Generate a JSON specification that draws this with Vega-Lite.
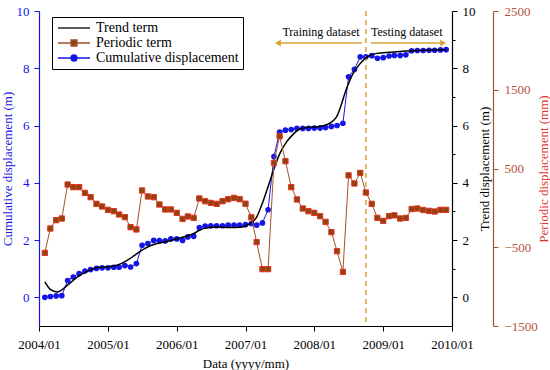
{
  "$schema": "https://vega.github.io/schema/vega-lite/v6.json",
  "width": 413,
  "height": 315,
  "autosize": {"type": "none"},
  "padding": {"left": 39, "top": 11, "right": 98, "bottom": 44},
  "background": "white",
  "config": {
    "view": {"stroke": null},
    "font": "Liberation Serif",
    "axis": {"labelFont": "Liberation Serif", "titleFont": "Liberation Serif", "labelFontSize": 13, "titleFontSize": 13, "titleFontWeight": "normal", "grid": false, "labelFlush": false, "labelOverlap": false, "tickWidth": 1, "domainWidth": 1.2},
    "legend": {"orient": "none", "legendX": 13, "legendY": 6, "direction": "vertical", "strokeColor": "black", "fillColor": "white", "padding": 4, "labelFont": "Liberation Serif", "labelFontSize": 14, "labelColor": "black", "symbolSize": 100, "symbolStrokeWidth": 1.3, "rowPadding": 1, "labelOffset": 26, "titleFontSize": 0}
  },
  "datasets": {
    "cum": [
      {"d": "2004-02-01", "v": 0.00}, {"d": "2004-03-01", "v": 0.03}, {"d": "2004-04-01", "v": 0.05}, {"d": "2004-05-01", "v": 0.06},
      {"d": "2004-06-01", "v": 0.59}, {"d": "2004-07-01", "v": 0.71}, {"d": "2004-08-01", "v": 0.83}, {"d": "2004-09-01", "v": 0.92},
      {"d": "2004-10-01", "v": 0.97}, {"d": "2004-11-01", "v": 1.01}, {"d": "2004-12-01", "v": 1.03}, {"d": "2005-01-01", "v": 1.03},
      {"d": "2005-02-01", "v": 1.05}, {"d": "2005-03-01", "v": 1.05}, {"d": "2005-04-01", "v": 1.11}, {"d": "2005-05-01", "v": 1.06},
      {"d": "2005-06-01", "v": 1.18}, {"d": "2005-07-01", "v": 1.82}, {"d": "2005-08-01", "v": 1.88}, {"d": "2005-09-01", "v": 1.99},
      {"d": "2005-10-01", "v": 1.98}, {"d": "2005-11-01", "v": 1.97}, {"d": "2005-12-01", "v": 2.04}, {"d": "2006-01-01", "v": 2.04},
      {"d": "2006-02-01", "v": 1.99}, {"d": "2006-03-01", "v": 2.11}, {"d": "2006-04-01", "v": 2.13}, {"d": "2006-05-01", "v": 2.44},
      {"d": "2006-06-01", "v": 2.49}, {"d": "2006-07-01", "v": 2.50}, {"d": "2006-08-01", "v": 2.50}, {"d": "2006-09-01", "v": 2.50},
      {"d": "2006-10-01", "v": 2.52}, {"d": "2006-11-01", "v": 2.52}, {"d": "2006-12-01", "v": 2.52}, {"d": "2007-01-01", "v": 2.54},
      {"d": "2007-02-01", "v": 2.58}, {"d": "2007-03-01", "v": 2.52}, {"d": "2007-04-01", "v": 2.60}, {"d": "2007-05-01", "v": 3.06},
      {"d": "2007-06-01", "v": 4.92}, {"d": "2007-07-01", "v": 5.77}, {"d": "2007-08-01", "v": 5.84}, {"d": "2007-09-01", "v": 5.86},
      {"d": "2007-10-01", "v": 5.90}, {"d": "2007-11-01", "v": 5.90}, {"d": "2007-12-01", "v": 5.90}, {"d": "2008-01-01", "v": 5.91},
      {"d": "2008-02-01", "v": 5.91}, {"d": "2008-03-01", "v": 5.93}, {"d": "2008-04-01", "v": 5.97}, {"d": "2008-05-01", "v": 6.00},
      {"d": "2008-06-01", "v": 6.08}, {"d": "2008-07-01", "v": 7.70}, {"d": "2008-08-01", "v": 7.96}, {"d": "2008-09-01", "v": 8.40},
      {"d": "2008-10-01", "v": 8.40}, {"d": "2008-11-01", "v": 8.44}, {"d": "2008-12-01", "v": 8.35}, {"d": "2009-01-01", "v": 8.37},
      {"d": "2009-02-01", "v": 8.43}, {"d": "2009-03-01", "v": 8.45}, {"d": "2009-04-01", "v": 8.45}, {"d": "2009-05-01", "v": 8.47},
      {"d": "2009-06-01", "v": 8.61}, {"d": "2009-07-01", "v": 8.62}, {"d": "2009-08-01", "v": 8.62}, {"d": "2009-09-01", "v": 8.63},
      {"d": "2009-10-01", "v": 8.63}, {"d": "2009-11-01", "v": 8.64}, {"d": "2009-12-01", "v": 8.65}
    ],
    "per": [
      {"d": "2004-02-01", "v": -571}, {"d": "2004-03-01", "v": -262}, {"d": "2004-04-01", "v": -156}, {"d": "2004-05-01", "v": -135},
      {"d": "2004-06-01", "v": 297}, {"d": "2004-07-01", "v": 263}, {"d": "2004-08-01", "v": 263}, {"d": "2004-09-01", "v": 190},
      {"d": "2004-10-01", "v": 136}, {"d": "2004-11-01", "v": 51}, {"d": "2004-12-01", "v": 18}, {"d": "2005-01-01", "v": -25},
      {"d": "2005-02-01", "v": -42}, {"d": "2005-03-01", "v": -84}, {"d": "2005-04-01", "v": -118}, {"d": "2005-05-01", "v": -245},
      {"d": "2005-06-01", "v": -274}, {"d": "2005-07-01", "v": 221}, {"d": "2005-08-01", "v": 145}, {"d": "2005-09-01", "v": 136},
      {"d": "2005-10-01", "v": 43}, {"d": "2005-11-01", "v": -20}, {"d": "2005-12-01", "v": -20}, {"d": "2006-01-01", "v": -63},
      {"d": "2006-02-01", "v": -140}, {"d": "2006-03-01", "v": -109}, {"d": "2006-04-01", "v": -127}, {"d": "2006-05-01", "v": 119},
      {"d": "2006-06-01", "v": 85}, {"d": "2006-07-01", "v": 63}, {"d": "2006-08-01", "v": 51}, {"d": "2006-09-01", "v": 85},
      {"d": "2006-10-01", "v": 110}, {"d": "2006-11-01", "v": 127}, {"d": "2006-12-01", "v": 110}, {"d": "2007-01-01", "v": 53},
      {"d": "2007-02-01", "v": -120}, {"d": "2007-03-01", "v": -435}, {"d": "2007-04-01", "v": -778}, {"d": "2007-05-01", "v": -778},
      {"d": "2007-06-01", "v": 571}, {"d": "2007-07-01", "v": 910}, {"d": "2007-08-01", "v": 593}, {"d": "2007-09-01", "v": 263},
      {"d": "2007-10-01", "v": 107}, {"d": "2007-11-01", "v": -8}, {"d": "2007-12-01", "v": -42}, {"d": "2008-01-01", "v": -63},
      {"d": "2008-02-01", "v": -105}, {"d": "2008-03-01", "v": -178}, {"d": "2008-04-01", "v": -308}, {"d": "2008-05-01", "v": -550},
      {"d": "2008-06-01", "v": -812}, {"d": "2008-07-01", "v": 413}, {"d": "2008-08-01", "v": 310}, {"d": "2008-09-01", "v": 444},
      {"d": "2008-10-01", "v": 195}, {"d": "2008-11-01", "v": 51}, {"d": "2008-12-01", "v": -127}, {"d": "2009-01-01", "v": -165},
      {"d": "2009-02-01", "v": -105}, {"d": "2009-03-01", "v": -95}, {"d": "2009-04-01", "v": -135}, {"d": "2009-05-01", "v": -127},
      {"d": "2009-06-01", "v": -15}, {"d": "2009-07-01", "v": -8}, {"d": "2009-08-01", "v": -27}, {"d": "2009-09-01", "v": -38},
      {"d": "2009-10-01", "v": -46}, {"d": "2009-11-01", "v": -25}, {"d": "2009-12-01", "v": -25}
    ],
    "trend": [
      {"d": "2004-02-01", "v": 0.54}, {"d": "2004-03-01", "v": 0.28}, {"d": "2004-04-07", "v": 0.19}, {"d": "2004-05-30", "v": 0.42},
      {"d": "2004-07-22", "v": 0.71}, {"d": "2004-09-13", "v": 0.91}, {"d": "2004-11-07", "v": 1.04}, {"d": "2004-12-28", "v": 1.07},
      {"d": "2005-02-22", "v": 1.13}, {"d": "2005-04-13", "v": 1.29}, {"d": "2005-06-04", "v": 1.53}, {"d": "2005-07-25", "v": 1.74},
      {"d": "2005-09-19", "v": 1.88}, {"d": "2005-11-04", "v": 1.94}, {"d": "2006-01-04", "v": 2.05}, {"d": "2006-04-01", "v": 2.23},
      {"d": "2006-05-22", "v": 2.40}, {"d": "2006-08-01", "v": 2.46}, {"d": "2006-10-10", "v": 2.44}, {"d": "2006-12-04", "v": 2.45},
      {"d": "2007-01-16", "v": 2.54}, {"d": "2007-03-01", "v": 2.80}, {"d": "2007-04-04", "v": 3.35}, {"d": "2007-05-10", "v": 4.05},
      {"d": "2007-06-07", "v": 4.60}, {"d": "2007-07-02", "v": 5.02}, {"d": "2007-08-07", "v": 5.43}, {"d": "2007-09-13", "v": 5.71},
      {"d": "2007-10-16", "v": 5.88}, {"d": "2007-11-22", "v": 5.93}, {"d": "2008-01-13", "v": 5.96}, {"d": "2008-03-07", "v": 6.03},
      {"d": "2008-04-28", "v": 6.30}, {"d": "2008-06-22", "v": 7.32}, {"d": "2008-07-25", "v": 7.82}, {"d": "2008-09-01", "v": 8.17},
      {"d": "2008-10-07", "v": 8.40}, {"d": "2008-11-28", "v": 8.52}, {"d": "2009-02-07", "v": 8.56}, {"d": "2009-05-04", "v": 8.60},
      {"d": "2009-09-07", "v": 8.64}, {"d": "2009-12-01", "v": 8.65}
    ],
    "arrows": [
      {"d": "2007-06-22", "d2": "2008-09-10", "v": 8.88},
      {"d": "2008-10-28", "d2": "2009-11-15", "v": 8.88}
    ],
    "heads": [
      {"d": "2007-06-22", "v": 8.88, "dir": "left"},
      {"d": "2009-11-15", "v": 8.88, "dir": "right"}
    ],
    "labels": [
      {"d": "2008-02-06", "v": 9.27, "t": "Training dataset"},
      {"d": "2009-05-06", "v": 9.27, "t": "Testing dataset"}
    ],
    "split": [{"d": "2008-10-01"}],
    "none": []
  },
  "layer": [
    {
      "layer": [
        {
          "data": {"name": "cum"},
          "mark": {"type": "line", "strokeWidth": 1},
          "encoding": {
            "x": {"field": "d", "type": "temporal",
              "scale": {"domain": [{"year": 2004, "month": 1, "date": 1}, {"year": 2010, "month": 1, "date": 1}], "nice": false},
              "axis": {"title": "Data (yyyy/mm)", "format": "%Y/%m",
                "values": [{"year": 2004, "month": 1, "date": 1}, {"year": 2004, "month": 7, "date": 1}, {"year": 2005, "month": 1, "date": 1}, {"year": 2005, "month": 7, "date": 1}, {"year": 2006, "month": 1, "date": 1}, {"year": 2006, "month": 7, "date": 1}, {"year": 2007, "month": 1, "date": 1}, {"year": 2007, "month": 7, "date": 1}, {"year": 2008, "month": 1, "date": 1}, {"year": 2008, "month": 7, "date": 1}, {"year": 2009, "month": 1, "date": 1}, {"year": 2009, "month": 7, "date": 1}, {"year": 2010, "month": 1, "date": 1}],
                "labelExpr": "month(datum.value) === 0 ? datum.label : ''",
                "tickSize": {"condition": {"test": "month(datum.value) !== 0", "value": 3}, "value": 5},
                "domainColor": "black", "tickColor": "black", "labelColor": "black", "titleColor": "black",
                "labelPadding": 7, "titlePadding": 6}},
            "y": {"field": "v", "type": "quantitative",
              "scale": {"domain": [-1, 10], "nice": false, "zero": false},
              "axis": {"title": "Cumulative displacement (m)", "values": [0, 1, 2, 3, 4, 5, 6, 7, 8, 9, 10],
                "labelExpr": "datum.value % 2 === 0 ? datum.label : ''",
                "tickSize": {"condition": {"test": "datum.value % 2 !== 0", "value": 3}, "value": 5},
                "domainColor": "#1515E8", "tickColor": "#1515E8", "labelColor": "#1515E8", "titleColor": "#1515E8",
                "labelPadding": 5, "titlePadding": 2}},
            "color": {"datum": "Cumulative displacement", "type": "nominal",
              "scale": {"domain": ["Trend term", "Periodic term", "Cumulative displacement"], "range": ["#000000", "#A0522D", "#1515E8"]},
              "legend": {"title": null}}
          }
        },
        {
          "data": {"name": "cum"},
          "mark": {"type": "point", "filled": true, "shape": "circle", "size": 32, "color": "#1515E8", "opacity": 1},
          "encoding": {
            "x": {"field": "d", "type": "temporal"},
            "y": {"field": "v", "type": "quantitative"}
          }
        },
        {
          "data": {"name": "none"},
          "mark": {"type": "point", "filled": true, "opacity": 1},
          "encoding": {
            "fill": {"datum": "Trend term", "type": "nominal",
              "scale": {"domain": ["Trend term", "Periodic term", "Cumulative displacement"], "range": ["transparent", "#8B4513", "#1515E8"]},
              "legend": {"title": null}},
            "shape": {"datum": "Trend term", "type": "nominal",
              "scale": {"domain": ["Trend term", "Periodic term", "Cumulative displacement"], "range": ["M-1,0H5.4", "M-1,0H1.6M2.8,0H5.4M1.6,-0.6H2.8V0.6H1.6Z", "M-1,0H1.6M2.8,0H5.4M2.8,0A0.6,0.6 0 1,0 1.6,0A0.6,0.6 0 1,0 2.8,0Z"]},
              "legend": {"title": null}}
          }
        },
        {
          "data": {"name": "split"},
          "mark": {"type": "rule", "color": "#D9A233", "strokeWidth": 1.5, "strokeDash": [5, 4]},
          "encoding": {"x": {"field": "d", "type": "temporal"}}
        },
        {
          "data": {"name": "arrows"},
          "mark": {"type": "rule", "color": "#D9A233", "strokeWidth": 1.5},
          "encoding": {
            "x": {"field": "d", "type": "temporal"},
            "x2": {"field": "d2"},
            "y": {"field": "v", "type": "quantitative"}
          }
        },
        {
          "data": {"name": "heads"},
          "mark": {"type": "point", "filled": true, "shape": "triangle-up", "color": "#D9A233", "size": 45, "opacity": 1},
          "encoding": {
            "x": {"field": "d", "type": "temporal"},
            "y": {"field": "v", "type": "quantitative"},
            "angle": {"field": "dir", "type": "nominal", "scale": {"domain": ["left", "right"], "range": [270, 90]}, "legend": null}
          }
        },
        {
          "data": {"name": "labels"},
          "mark": {"type": "text", "font": "Liberation Serif", "fontSize": 12, "color": "black", "align": "center", "baseline": "middle"},
          "encoding": {
            "x": {"field": "d", "type": "temporal"},
            "y": {"field": "v", "type": "quantitative"},
            "text": {"field": "t"}
          }
        }
      ]
    },
    {
      "data": {"name": "trend"},
      "mark": {"type": "line", "strokeWidth": 1.5, "interpolate": "monotone"},
      "encoding": {
        "x": {"field": "d", "type": "temporal"},
        "y": {"field": "v", "type": "quantitative",
          "scale": {"domain": [-1, 10], "nice": false, "zero": false},
          "axis": {"orient": "right", "title": "Trend displacement (m)", "titleAngle": 270, "titleBaseline": "top", "values": [0, 1, 2, 3, 4, 5, 6, 7, 8, 9, 10],
            "labelExpr": "datum.value % 2 === 0 ? datum.label : ''",
            "tickSize": {"condition": {"test": "datum.value % 2 !== 0", "value": 3}, "value": 5},
            "domainColor": "black", "tickColor": "black", "labelColor": "black", "titleColor": "black",
            "labelPadding": 5, "titlePadding": 3}},
        "color": {"datum": "Trend term", "type": "nominal"}
      }
    },
    {
      "layer": [
        {
          "data": {"name": "per"},
          "mark": {"type": "line", "strokeWidth": 1},
          "encoding": {
            "x": {"field": "d", "type": "temporal"},
            "y": {"field": "v", "type": "quantitative",
              "scale": {"domain": [-1500, 2500], "nice": false, "zero": false},
              "axis": {"orient": "right", "offset": 41, "title": "Periodic displacement (mm)", "titleAngle": 270, "titleBaseline": "top",
                "values": [-1500, -1250, -1000, -750, -500, -250, 0, 250, 500, 750, 1000, 1250, 1500, 1750, 2000, 2250, 2500],
                "labelExpr": "datum.value % 500 === 0 ? datum.label : ''",
                "format": "d",
                "tickSize": {"condition": {"test": "datum.value % 500 !== 0", "value": 3}, "value": 5},
                "domainColor": "#A0522D", "tickColor": "#A0522D", "labelColor": "#B5533A", "titleColor": "#E0362B",
                "labelPadding": 6, "titlePadding": 0}},
            "color": {"datum": "Periodic term", "type": "nominal"}
          }
        },
        {
          "data": {"name": "per"},
          "mark": {"type": "square", "filled": true, "size": 28, "fill": "#8B4513", "stroke": "#E8321E", "strokeWidth": 1, "opacity": 1},
          "encoding": {
            "x": {"field": "d", "type": "temporal"},
            "y": {"field": "v", "type": "quantitative"}
          }
        }
      ]
    }
  ],
  "resolve": {"scale": {"y": "independent"}}
}
